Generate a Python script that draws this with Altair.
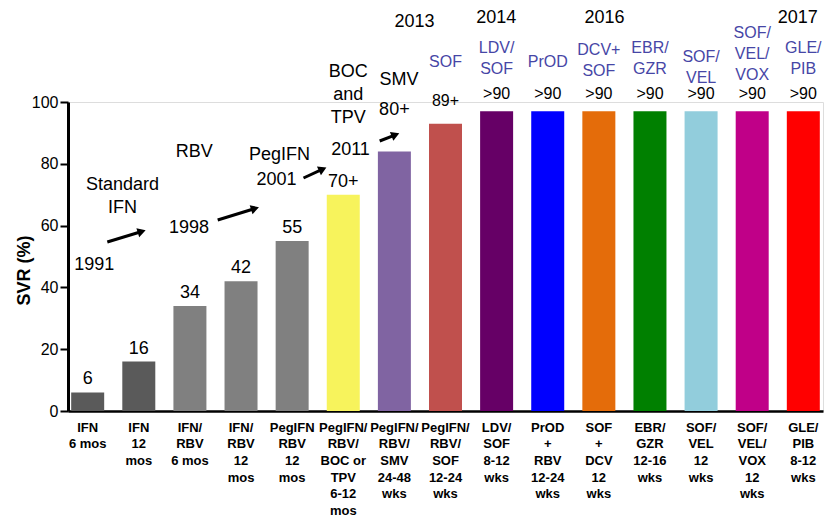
import altair as alt
import pandas as pd
import numpy as np

FONT = "Liberation Sans"

# ---- data ----
categories = [
    "IFN|6 mos", "IFN|12|mos", "IFN/|RBV|6 mos", "IFN/|RBV|12|mos", "PegIFN|RBV|12|mos",
    "PegIFN/|RBV/|BOC or|TPV|6-12|mos", "PegIFN/|RBV/|SMV|24-48|wks", "PegIFN/|RBV/|SOF|12-24|wks",
    "LDV/|SOF|8-12|wks", "PrOD|+|RBV|12-24|wks", "SOF|+|DCV|12|wks", "EBR/|GZR|12-16|wks",
    "SOF/|VEL|12|wks", "SOF/|VEL/|VOX|12|wks", "GLE/|PIB|8-12|wks",
]
svr = [6, 16, 34, 42, 55, 70, 84, 93, 97, 97, 97, 97, 97, 97, 97]
value_labels = ["6", "16", "34", "42", "55", "70+", "80+", "89+",
                ">90", ">90", ">90", ">90", ">90", ">90", ">90"]
bar_colors = ["#5a5a5a", "#5a5a5a", "#808080", "#808080", "#808080", "#f7f35c", "#8064a2",
              "#c0504d", "#660066", "#0000ff", "#e46c0a", "#008000", "#92cddc", "#c00088", "#ff0000"]

drug_names = ["SOF", "LDV/\nSOF", "PrOD", "DCV+\nSOF", "EBR/\nGZR", "SOF/\nVEL", "SOF/\nVEL/\nVOX", "GLE/\nPIB"]
drug_bars = categories[7:]
drug_py = [-40, -54, -40, -52, -54, -45, -69, -54]

years = ["2013", "2014", "2016", "2017"]
years_px = [346.6, 428.3, 536.4, 729.8]
years_py = [-80, -84, -84, -84]

notes = ["Standard\nIFN", "1991", "RBV", "1998", "PegIFN", "2001", "BOC\nand\nTPV", "2011", "SMV"]
notes_px = [54.6, 26.3, 126.3, 120.9, 211.5, 208.4, 280.3, 282.5, 331.1]
notes_py = [83, 163, 50, 126, 53, 78, -30, 48, -22]

arrow_start_x = [39.3, 149.7, 235.5, 311.7]
arrow_start_y = [140, 118, 76, 39]
arrow_tip_x = [78.5, 191.8, 259.2, 332.1]
arrow_tip_y = [128, 105, 65, 31]

# ---- tables ----
df = pd.DataFrame({"cat": categories, "svr": svr, "color": bar_colors, "lab": value_labels})
low = df.iloc[:6]
high = df.iloc[6:].copy()
high["py"] = [8, -1] + [-8] * 7
high["fs"] = [18, 16] + [16] * 7

drug_df = pd.DataFrame({"cat": drug_bars, "txt": drug_names, "py": drug_py})
year_df = pd.DataFrame({"txt": years, "px": years_px, "py": years_py})
note_df = pd.DataFrame({"txt": notes, "px": notes_px, "py": notes_py})

sx, sy = np.array(arrow_start_x), np.array(arrow_start_y)
tx, ty = np.array(arrow_tip_x), np.array(arrow_tip_y)
d = np.hypot(tx - sx, ty - sy)
ux, uy = (tx - sx) / d, (ty - sy) / d
hx, hy = tx - 5 * ux, ty - 5 * uy
ang = (np.degrees(np.arctan2(uy, ux)) + 360) % 360
arrow_df = pd.DataFrame({"x1": sx, "y1": sy, "x2": hx, "y2": hy, "ang": ang})

# ---- encodings ----
x_enc = alt.X(
    "cat:N", sort=categories, title=None,
    scale=alt.Scale(domain=categories, paddingInner=0.35, paddingOuter=0.06),
    axis=alt.Axis(
        labelExpr="split(datum.value, '|')", labelAngle=0, labelFontSize=13, labelFontWeight="bold",
        labelLineHeight=16.7, labelPadding=10, ticks=False, labelColor="black", labelOverlap=False,
        labelLimit=200, domainColor="black", domainWidth=2.5, labelFont=FONT,
    ),
)
y_enc = alt.Y(
    "svr:Q", title="SVR (%)",
    scale=alt.Scale(domain=[0, 100], nice=False),
    axis=alt.Axis(
        values=[0, 20, 40, 60, 80, 100], labelFontSize=16, labelColor="black", labelPadding=2,
        tickSize=8, tickWidth=2, tickColor="black", domainColor="black", domainWidth=3,
        titleFontSize=18, titleFontWeight="bold", titleColor="black", titleX=-35, titleY=168,
        labelFont=FONT, titleFont=FONT, grid=False,
    ),
)
px_x = alt.X("px:Q", scale=None, axis=None, title=None)
px_y = alt.Y("py:Q", scale=None, axis=None, title=None)

bars = alt.Chart(df).mark_bar(size=33).encode(
    x=x_enc, y=y_enc, color=alt.Color("color:N", scale=None)
)
lab_low = alt.Chart(low).mark_text(font=FONT, fontSize=18, dy=-13, baseline="middle", color="black").encode(
    x=x_enc, y=y_enc, text="lab:N"
)
lab_high = alt.Chart(high).mark_text(font=FONT, baseline="middle", color="black").encode(
    x=x_enc, y=px_y, text="lab:N", size=alt.Size("fs:Q", scale=None, legend=None)
)
drugs = alt.Chart(drug_df).mark_text(
    font=FONT, fontSize=16, baseline="middle", lineBreak="\n", lineHeight=21, color="#4646a6"
).encode(x=x_enc, y=px_y, text="txt:N")
yrs = alt.Chart(year_df).mark_text(font=FONT, fontSize=18, baseline="middle", color="black").encode(
    x=px_x, y=px_y, text="txt:N"
)
nts = alt.Chart(note_df).mark_text(
    font=FONT, fontSize=18, baseline="middle", lineBreak="\n", lineHeight=23, color="black"
).encode(x=px_x, y=px_y, text="txt:N")
arr = alt.Chart(arrow_df).mark_rule(strokeWidth=3, color="black").encode(
    x=alt.X("x1:Q", scale=None, axis=None, title=None),
    y=alt.Y("y1:Q", scale=None, axis=None, title=None),
    x2="x2:Q", y2="y2:Q",
)
heads = alt.Chart(arrow_df).mark_point(shape="triangle-right", filled=True, color="black", size=90, opacity=1).encode(
    x=alt.X("x2:Q", scale=None, axis=None, title=None),
    y=alt.Y("y2:Q", scale=None, axis=None, title=None),
    angle=alt.Angle("ang:Q", scale=None),
)

chart = alt.layer(bars, lab_low, lab_high, drugs, yrs, nts, arr, heads).properties(
    width=755, height=309,
    autosize=alt.AutoSizeParams(type="none"),
    padding={"left": 60, "top": 94, "right": 3, "bottom": 107},
).configure_view(stroke=None).configure(font=FONT)

chart.save("out.html", embed_options={"renderer": "svg", "actions": False})
